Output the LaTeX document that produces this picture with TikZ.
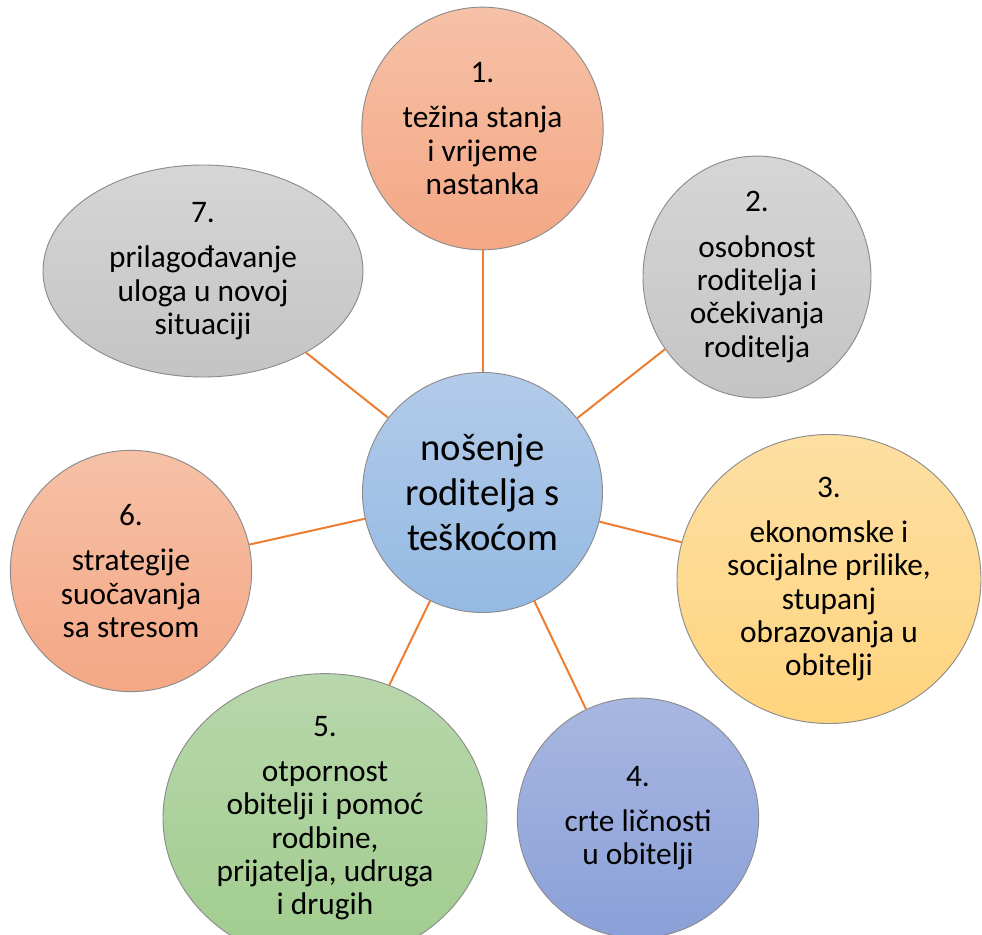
\documentclass[tikz,border=0pt]{standalone}
\usepackage{fontspec}
\setmainfont{Carlito}
\usepackage{tikz}
\usetikzlibrary{shapes.geometric}

\definecolor{linkorange}{RGB}{237,125,49}
\definecolor{salmontop}{RGB}{246,193,167}
\definecolor{salmonbot}{RGB}{244,167,132}
\definecolor{greytop}{RGB}{214,214,214}
\definecolor{greybot}{RGB}{196,196,196}
\definecolor{yellowtop}{RGB}{253,223,162}
\definecolor{yellowbot}{RGB}{255,212,126}
\definecolor{bluetop}{RGB}{168,183,225}
\definecolor{bluebot}{RGB}{138,160,216}
\definecolor{greentop}{RGB}{184,215,172}
\definecolor{greenbot}{RGB}{160,204,141}
\definecolor{hubtop}{RGB}{179,203,233}
\definecolor{hubbot}{RGB}{148,185,227}

\begin{document}
\begin{tikzpicture}[x=0.75pt,y=-0.75pt,
  bubble/.style={ellipse,draw=black!45,line width=0.7pt,inner sep=0pt,
    align=center,font=\fontsize{23.5}{25}\selectfont},
  hub/.style={bubble,font=\fontsize{29}{34}\selectfont,
    top color=hubtop,bottom color=hubbot},
  salmon/.style={top color=salmontop,bottom color=salmonbot},
  grey/.style={top color=greytop,bottom color=greybot},
  link/.style={draw=linkorange,line width=1.5pt}]
  \useasboundingbox (0,0) rectangle (982,935);

  \node[hub,minimum width=180pt,minimum height=180pt] (hub) at (482.5,492.5)
    {nošenje\\ roditelja s\\ teškoćom};

  \node[bubble,salmon,minimum width=181pt,minimum height=182pt] (n1) at (482.5,128.5)
    {1.\\[9pt] težina stanja\\ i vrijeme\\ nastanka};
  \node[bubble,grey,minimum width=171pt,minimum height=164pt] (n2) at (757,277)
    {2.\\[9pt] osobnost\\ roditelja i\\ očekivanja\\ roditelja};
  \node[bubble,top color=yellowtop,bottom color=yellowbot,
    minimum width=228pt,minimum height=182pt] (n3) at (829,579)
    {3.\\[9pt] ekonomske i\\ socijalne prilike,\\ stupanj\\ obrazovanja u\\ obitelji};
  \node[bubble,top color=bluetop,bottom color=bluebot,
    minimum width=181pt,minimum height=180pt] (n4) at (638,818)
    {4.\\[9pt] crte ličnosti\\ u obitelji};
  \node[bubble,top color=greentop,bottom color=greenbot,
    minimum width=243pt,minimum height=178pt] (n5) at (325,818)
    {5.\\[9pt] otpornost\\ obitelji i pomoć\\ rodbine,\\ prijatelja, udruga\\ i drugih};
  \node[bubble,salmon,minimum width=181pt,minimum height=181pt] (n6) at (131,571)
    {6.\\[9pt] strategije\\ suočavanja\\ sa stresom};
  \node[bubble,grey,minimum width=240pt,minimum height=159pt] (n7) at (203,271)
    {7.\\[9pt] prilagođavanje\\ uloga u novoj\\ situaciji};

  \foreach \i in {1,...,7}
    \draw[link] (hub) -- (n\i);
\end{tikzpicture}
\end{document}
